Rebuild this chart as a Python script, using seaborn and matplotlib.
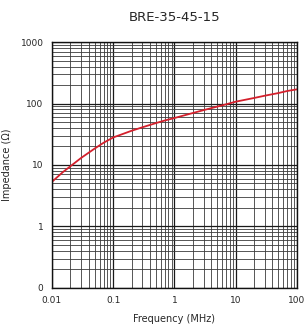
import numpy as np
import pandas as pd
import matplotlib
matplotlib.use('Agg')
import matplotlib.pyplot as plt
import matplotlib.ticker as mticker
import seaborn as sns

freq = [0.01, 0.015, 0.02, 0.03, 0.05, 0.07, 0.1, 0.2, 0.3, 0.5, 0.7, 1,
        2, 3, 5, 7, 10, 20, 30, 50, 70, 100]
impedance = [5.3, 7.6, 9.5, 13, 18.5, 23, 28, 36, 41, 48, 53, 58,
             70, 78, 89, 97, 107, 123, 134, 148, 160, 170]
x_ticks = [0.01, 0.1, 1, 10, 100]
x_labels = ['0.01', '0.1', '1', '10', '100']
y_ticks = [0.1, 1, 10, 100, 1000]
y_labels = ['0', '1', '10', '100', '1000']

df = pd.DataFrame({'freq': freq, 'imp': impedance})

sns.set_style('white')
plt.rcParams['font.family'] = ['DejaVu Sans']

fig = plt.figure(figsize=(3.07, 3.26), dpi=100)
ax = fig.add_axes([0.169, 0.117, 0.798, 0.754])

ax.set_xscale('log')
ax.set_yscale('log')
ax.set_xlim(0.01, 100)
ax.set_ylim(0.1, 1000)

ax.xaxis.set_major_locator(mticker.FixedLocator(x_ticks))
ax.xaxis.set_major_formatter(mticker.FixedFormatter(x_labels))
ax.yaxis.set_major_locator(mticker.FixedLocator(y_ticks))
ax.yaxis.set_major_formatter(mticker.FixedFormatter(y_labels))
ax.xaxis.set_minor_locator(mticker.LogLocator(base=10, subs=np.arange(2, 10)))
ax.yaxis.set_minor_locator(mticker.LogLocator(base=10, subs=np.arange(2, 10)))
ax.xaxis.set_minor_formatter(mticker.NullFormatter())
ax.yaxis.set_minor_formatter(mticker.NullFormatter())

ax.grid(True, which='major', color='#1a1a1a', lw=0.9)
ax.grid(True, which='minor', color='#3a3a3a', lw=0.6)
ax.set_axisbelow(True)

sns.lineplot(data=df, x='freq', y='imp', color='#d4202c', lw=1.3, ax=ax)

ax.tick_params(axis='both', which='both', length=0, labelsize=6.5, pad=6)
for s in ax.spines.values():
    s.set_color('#111111')
    s.set_linewidth(1.0)

ax.set_xlabel('Frequency (MHz)', fontsize=7, labelpad=6)
ax.set_ylabel('Impedance (Ω)', fontsize=7, labelpad=6)
fig.text(0.57, 0.945, 'BRE-35-45-15', ha='center', va='center', fontsize=9.5)

fig.savefig('out.png', dpi=100)
